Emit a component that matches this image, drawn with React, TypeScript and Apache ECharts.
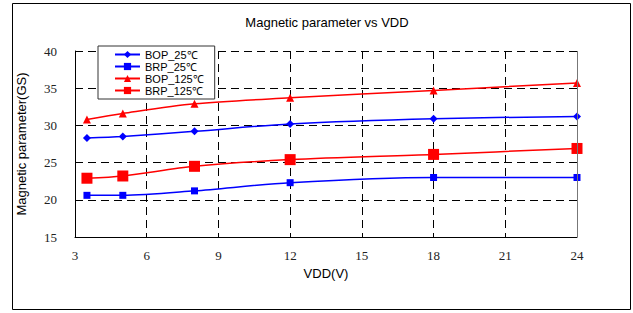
import React, { useEffect, useRef } from "react";
import * as echarts from "echarts";

const vdd = [3.5, 5, 8, 12, 18, 24];
const bop25 = [28.3, 28.5, 29.2, 30.2, 30.9, 31.2];
const brp25 = [20.6, 20.6, 21.2, 22.3, 23.0, 23.0];
const bop125 = [30.8, 31.6, 32.9, 33.7, 34.7, 35.7];
const brp125 = [22.9, 23.2, 24.5, 25.4, 26.1, 26.9];
const seriesNames = ["BOP_25℃", "BRP_25℃", "BOP_125℃", "BRP_125℃"];

export default function App() {
  const ref = useRef<HTMLDivElement>(null);
  useEffect(() => {
    if (!ref.current) return;
    const chart = echarts.init(ref.current, null, { renderer: "svg" });
    const pair = (ys: number[]) => vdd.map((x, i) => [x, ys[i]]);
    const blue = "#0000ff";
    const red = "#ff0000";
    const mk = (name: string, ys: number[], color: string, symbol: string, size: number) => ({
      name,
      type: "line",
      data: pair(ys),
      smooth: 0.3,
      symbol,
      symbolSize: size,
      itemStyle: { color },
      lineStyle: { color, width: 1.5 },
    });
    const s0: any = mk(seriesNames[0], bop25, blue, "diamond", 8);
    s0.markLine = {
      silent: true,
      symbol: "none",
      label: { show: false },
      lineStyle: { color: "#777", type: "solid", width: 1 },
      data: [{ xAxis: 24 }],
    };
    chart.setOption({
      animation: false,
      backgroundColor: "#fff",
      title: {
        text: "Magnetic parameter vs VDD",
        left: 322,
        textAlign: "center",
        top: 11,
        textStyle: { fontFamily: "Liberation Sans", fontSize: 13, fontWeight: "normal", color: "#000" },
      },
      legend: {
        orient: "vertical",
        left: 98,
        top: 46,
        backgroundColor: "#fff",
        borderColor: "#333",
        borderWidth: 1,
        borderRadius: 0,
        padding: [3, 11, 3, 16],
        itemGap: 1,
        itemWidth: 25,
        itemHeight: 9,
        textStyle: { fontFamily: "Liberation Sans", fontSize: 11, lineHeight: 11, color: "#000" },
        data: seriesNames,
      },
      grid: { left: 75, right: 56, top: 51, bottom: 76 },
      xAxis: {
        type: "value",
        min: 3,
        max: 24,
        interval: 3,
        name: "VDD(V)",
        nameLocation: "middle",
        nameGap: 27,
        nameTextStyle: { fontFamily: "Liberation Sans", fontSize: 13, color: "#000" },
        axisLine: { lineStyle: { color: "#000", width: 1 } },
        axisTick: { show: false },
        axisLabel: { margin: 12, fontFamily: "Liberation Serif", fontSize: 13, color: "#222" },
        splitLine: { show: true, lineStyle: { color: "#000", type: [8, 5], width: 1 } },
      },
      yAxis: {
        type: "value",
        min: 15,
        max: 40,
        interval: 5,
        name: "Magnetic parameter(GS)",
        nameLocation: "middle",
        nameGap: 47,
        nameTextStyle: { fontFamily: "Liberation Sans", fontSize: 13, color: "#000" },
        axisLine: { show: true, lineStyle: { color: "#000", width: 1 } },
        axisTick: { show: true, inside: true, length: 5, lineStyle: { color: "#000" } },
        axisLabel: { margin: 18, fontFamily: "Liberation Serif", fontSize: 13, color: "#222" },
        splitLine: { show: true, lineStyle: { color: "#000", type: [8, 5], width: 1 } },
      },
      graphic: [
        {
          type: "rect",
          shape: { x: 12.5, y: 3.5, width: 618, height: 306 },
          style: { fill: "none", stroke: "#000", lineWidth: 1 },
          silent: true,
        },
      ],
      series: [
        s0,
        mk(seriesNames[1], brp25, blue, "rect", 7),
        mk(seriesNames[2], bop125, red, "triangle", 8),
        mk(seriesNames[3], brp125, red, "rect", 11),
      ],
    });
    return () => chart.dispose();
  }, []);
  return (
    <div
      ref={ref}
      style={{ position: "absolute", left: 0, top: 0, width: 633, height: 313 }}
    />
  );
}
